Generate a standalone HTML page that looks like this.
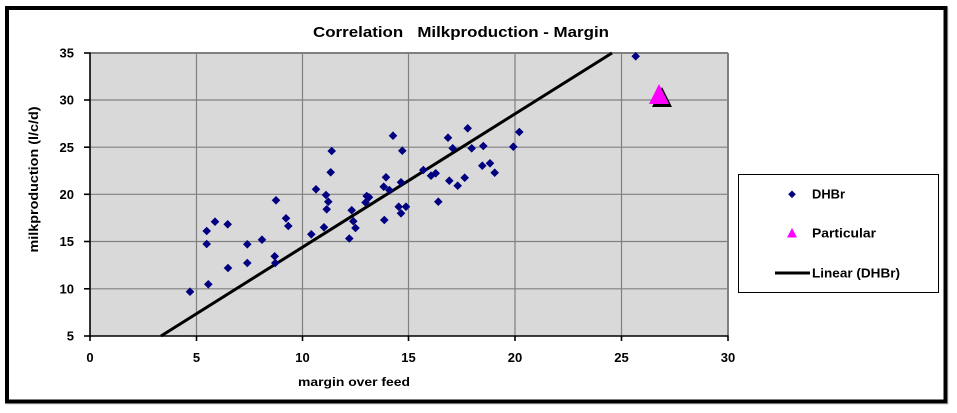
<!DOCTYPE html>
<html>
<head>
<meta charset="utf-8">
<style>
  html, body { margin: 0; padding: 0; background: #ffffff; }
  svg { display: block; }
  text { font-family: "Liberation Sans", sans-serif; font-weight: bold; fill: #000; }
  .pre { white-space: pre; }
</style>
</head>
<body>
<svg width="957" height="413" viewBox="0 0 957 413" xmlns="http://www.w3.org/2000/svg">
  <rect x="0" y="0" width="957" height="413" fill="#ffffff"/>
  <rect x="8.5" y="9.5" width="938.5" height="393.5" fill="none" stroke="#e6e6e6" stroke-width="4"/>
  <rect x="7" y="8" width="938.5" height="393.5" fill="#ffffff" stroke="#000" stroke-width="4"/>

  <text class="pre" xml:space="preserve" x="461" y="37" font-size="15" text-anchor="middle" textLength="296" lengthAdjust="spacingAndGlyphs">Correlation   Milkproduction - Margin</text>

  <rect x="90" y="53" width="638" height="283" fill="#d9d9d9"/>
  <g stroke="#808080" stroke-width="1.2" fill="none">
    <line x1="90" y1="100" x2="728" y2="100"/>
    <line x1="90" y1="147.2" x2="728" y2="147.2"/>
    <line x1="90" y1="194.3" x2="728" y2="194.3"/>
    <line x1="90" y1="241.5" x2="728" y2="241.5"/>
    <line x1="90" y1="288.8" x2="728" y2="288.8"/>
    <line x1="196.5" y1="53" x2="196.5" y2="336"/>
    <line x1="302.5" y1="53" x2="302.5" y2="336"/>
    <line x1="408.5" y1="53" x2="408.5" y2="336"/>
    <line x1="515" y1="53" x2="515" y2="336"/>
    <line x1="621.5" y1="53" x2="621.5" y2="336"/>
    <line x1="90" y1="53" x2="728" y2="53" stroke-width="2"/>
    <line x1="728" y1="53" x2="728" y2="336" stroke-width="2"/>
  </g>
  <g stroke="#000" stroke-width="1.6">
    <line x1="90" y1="52.5" x2="90" y2="337"/>
    <line x1="89" y1="336" x2="728.5" y2="336"/>
    <line x1="84" y1="53" x2="90" y2="53"/>
    <line x1="84" y1="100" x2="90" y2="100"/>
    <line x1="84" y1="147.2" x2="90" y2="147.2"/>
    <line x1="84" y1="194.3" x2="90" y2="194.3"/>
    <line x1="84" y1="241.5" x2="90" y2="241.5"/>
    <line x1="84" y1="288.8" x2="90" y2="288.8"/>
    <line x1="84" y1="336" x2="90" y2="336"/>
    <line x1="90" y1="336" x2="90" y2="341"/>
    <line x1="196.5" y1="336" x2="196.5" y2="341"/>
    <line x1="302.5" y1="336" x2="302.5" y2="341"/>
    <line x1="408.5" y1="336" x2="408.5" y2="341"/>
    <line x1="515" y1="336" x2="515" y2="341"/>
    <line x1="621.5" y1="336" x2="621.5" y2="341"/>
    <line x1="728" y1="336" x2="728" y2="341"/>
  </g>

  <g font-size="13" text-anchor="end">
    <text x="74" y="57.7">35</text>
    <text x="74" y="104.7">30</text>
    <text x="74" y="151.9">25</text>
    <text x="74" y="199">20</text>
    <text x="74" y="246.2">15</text>
    <text x="74" y="293.5">10</text>
    <text x="74" y="340.7">5</text>
  </g>
  <g font-size="13" text-anchor="middle">
    <text x="90" y="362">0</text>
    <text x="196.5" y="362">5</text>
    <text x="302.5" y="362">10</text>
    <text x="408.5" y="362">15</text>
    <text x="515" y="362">20</text>
    <text x="621.5" y="362">25</text>
    <text x="728" y="362">30</text>
  </g>

  <text x="354" y="386" font-size="12" text-anchor="middle" textLength="112" lengthAdjust="spacingAndGlyphs">margin over feed</text>
  <text transform="translate(38,179.5) rotate(-90)" x="0" y="0" font-size="13" text-anchor="middle" textLength="146" lengthAdjust="spacingAndGlyphs">milkproduction (l/c/d)</text>

  <line x1="161" y1="336" x2="612" y2="53" stroke="#000" stroke-width="3"/>

  <defs>
    <path id="d" d="M0,-4.3 L4.3,0 L0,4.3 L-4.3,0 Z" fill="#000080"/>
  </defs>
  <g>
    <use href="#d" x="190" y="291.7"/>
    <use href="#d" x="208.3" y="284.3"/>
    <use href="#d" x="206.7" y="244"/>
    <use href="#d" x="206.7" y="231"/>
    <use href="#d" x="215" y="221.7"/>
    <use href="#d" x="227.7" y="224.3"/>
    <use href="#d" x="228" y="268"/>
    <use href="#d" x="247.3" y="244.3"/>
    <use href="#d" x="247.3" y="263"/>
    <use href="#d" x="262" y="239.7"/>
    <use href="#d" x="274.7" y="256.3"/>
    <use href="#d" x="275.3" y="263"/>
    <use href="#d" x="276" y="200.3"/>
    <use href="#d" x="286" y="218.3"/>
    <use href="#d" x="288.3" y="226"/>
    <use href="#d" x="311.3" y="234.3"/>
    <use href="#d" x="324" y="227.3"/>
    <use href="#d" x="316" y="189.3"/>
    <use href="#d" x="326" y="195"/>
    <use href="#d" x="328.3" y="201.7"/>
    <use href="#d" x="326.7" y="209.3"/>
    <use href="#d" x="331.7" y="151"/>
    <use href="#d" x="330.7" y="172.3"/>
    <use href="#d" x="349.3" y="238.5"/>
    <use href="#d" x="351.7" y="210.2"/>
    <use href="#d" x="353.3" y="221.2"/>
    <use href="#d" x="355.5" y="228"/>
    <use href="#d" x="366.7" y="196"/>
    <use href="#d" x="365.5" y="202.5"/>
    <use href="#d" x="369" y="197.3"/>
    <use href="#d" x="384.3" y="220"/>
    <use href="#d" x="383.7" y="186.7"/>
    <use href="#d" x="386" y="177.3"/>
    <use href="#d" x="389.3" y="190"/>
    <use href="#d" x="393" y="135.7"/>
    <use href="#d" x="402.3" y="150.7"/>
    <use href="#d" x="401" y="182.3"/>
    <use href="#d" x="398.7" y="206.7"/>
    <use href="#d" x="401" y="213.3"/>
    <use href="#d" x="406" y="206.7"/>
    <use href="#d" x="423.3" y="170"/>
    <use href="#d" x="431" y="175.7"/>
    <use href="#d" x="435.7" y="173.3"/>
    <use href="#d" x="438.3" y="201.7"/>
    <use href="#d" x="448" y="137.7"/>
    <use href="#d" x="452.7" y="148.3"/>
    <use href="#d" x="467.7" y="128.3"/>
    <use href="#d" x="471.7" y="148.3"/>
    <use href="#d" x="483.3" y="146"/>
    <use href="#d" x="449.3" y="180.7"/>
    <use href="#d" x="457.7" y="185.7"/>
    <use href="#d" x="464.7" y="177.7"/>
    <use href="#d" x="482.3" y="165.7"/>
    <use href="#d" x="490" y="163.3"/>
    <use href="#d" x="494.7" y="172.7"/>
    <use href="#d" x="513.3" y="146.7"/>
    <use href="#d" x="519.3" y="132"/>
    <use href="#d" x="635.7" y="56.3"/>
  </g>

  <polygon points="662,87 652,107 672,107" fill="#000"/>
  <polygon points="659,84 649,104 669,104" fill="#ff00ff"/>

  <rect x="738.5" y="174.5" width="200" height="118" fill="#ffffff" stroke="#000" stroke-width="1"/>
  <path d="M792,190.5 L795.8,194.3 L792,198.1 L788.2,194.3 Z" fill="#000080"/>
  <text x="812" y="198.5" font-size="12.5" textLength="33" lengthAdjust="spacingAndGlyphs">DHBr</text>
  <polygon points="792,228 787,237.5 797,237.5" fill="#ff00ff"/>
  <text x="812" y="237.5" font-size="12.5" textLength="64" lengthAdjust="spacingAndGlyphs">Particular</text>
  <line x1="775" y1="273" x2="810" y2="273" stroke="#000" stroke-width="3"/>
  <text x="812" y="277.5" font-size="12.5" textLength="88" lengthAdjust="spacingAndGlyphs">Linear (DHBr)</text>
</svg>
</body>
</html>
